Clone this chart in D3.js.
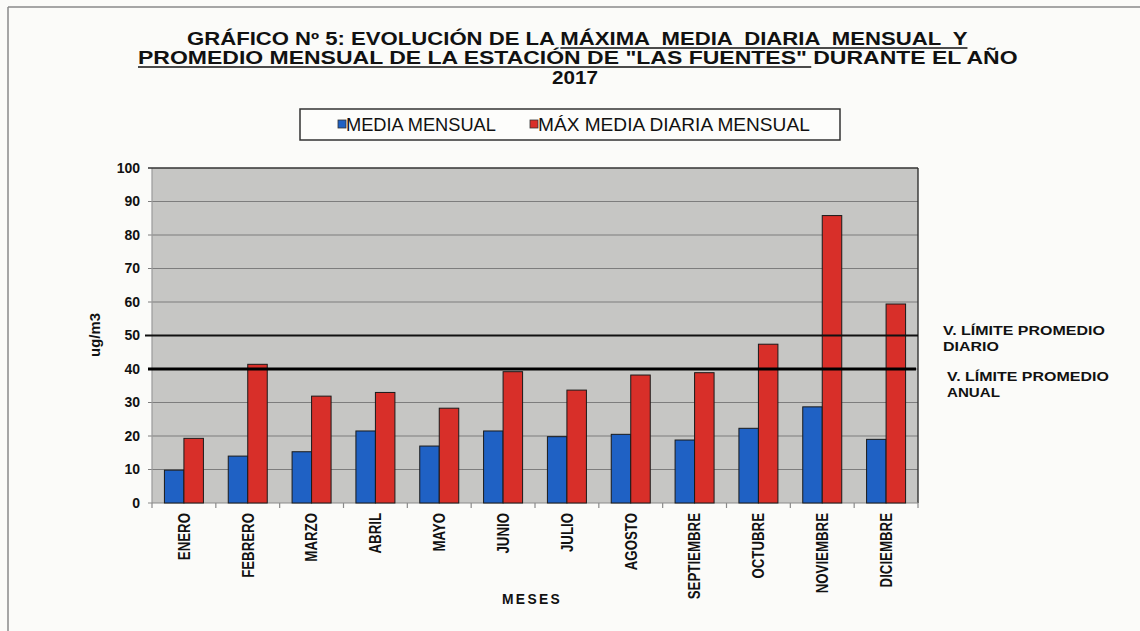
<!DOCTYPE html>
<html><head><meta charset="utf-8">
<script src="https://cdn.jsdelivr.net/npm/d3@7/dist/d3.min.js"></script>
<style>
html,body{margin:0;padding:0;background:#fbfbf9;}
text{font-family:"Liberation Sans",Arial,sans-serif;}
</style></head>
<body>
<svg id="c" width="1140" height="631"></svg>
<script>
const months = ["ENERO","FEBRERO","MARZO","ABRIL","MAYO","JUNIO","JULIO","AGOSTO","SEPTIEMBRE","OCTUBRE","NOVIEMBRE","DICIEMBRE"];
const seriesNames = ["MEDIA MENSUAL","MÁX MEDIA DIARIA MENSUAL"];
const mediaMensual = [9.8,14.0,15.3,21.5,17.0,21.5,19.8,20.5,18.8,22.3,28.7,19.0];
const maxMediaDiaria = [19.3,41.4,31.9,33.0,28.3,39.2,33.7,38.2,38.9,47.4,85.8,59.4];
const yTicks = [0,10,20,30,40,50,60,70,80,90,100];
const limitDiario = 50;
const limitAnual = 40;
const limitLabels = [["V. LÍMITE PROMEDIO","DIARIO"],["V. LÍMITE PROMEDIO","ANUAL"]];
const titleLines = ["GRÁFICO Nº 5: EVOLUCIÓN DE LA MÁXIMA  MEDIA  DIARIA  MENSUAL  Y",
  "PROMEDIO MENSUAL DE LA ESTACIÓN DE \"LAS FUENTES\" DURANTE EL AÑO","2017"];

const colors = ["#1f61c4","#d82f29"];
const svg = d3.select("#c");
const L=152, R=918, T=168, B=503;

function fitText(parent, str, x, y, width, attrs, anchor){
  const g = parent.append("g").attr("transform",`translate(${x},${y})`);
  const t = g.append("text").text(str).attr("text-anchor",anchor||"start").style("white-space","pre");
  for (const k in attrs) t.attr(k, attrs[k]);
  const w = t.node().getComputedTextLength();
  const k = width / w;
  t.attr("transform",`scale(${k},1)`);
  return {g,t,k};
}

// frame
svg.append("line").attr("x1",8).attr("x2",1140).attr("y1",7).attr("y2",7).attr("stroke","#8a8a8a").attr("stroke-width",1.5);
svg.append("line").attr("x1",8).attr("x2",8).attr("y1",7).attr("y2",631).attr("stroke","#8a8a8a").attr("stroke-width",1.5);

// title
const tf = {"font-weight":"bold","font-size":"18px","fill":"#111"};
const t1 = fitText(svg, titleLines[0], 187, 45, 781, tf);
const t2 = fitText(svg, titleLines[1], 138, 64, 880, tf);
fitText(svg, titleLines[2], 575, 84, 46, tf, "middle");
{
  const s = titleLines[0], i = s.indexOf("MÁXIMA");
  const n = t1.t.node();
  const x0 = n.getSubStringLength(0,i)*t1.k, x1 = n.getComputedTextLength()*t1.k;
  t1.g.append("line").attr("x1",x0).attr("x2",x1).attr("y1",3).attr("y2",3).attr("stroke","#111").attr("stroke-width",1.6);
}
{
  const s = titleLines[1], i = s.indexOf("DURANTE");
  const n = t2.t.node();
  const x1 = n.getSubStringLength(0,i)*t2.k;
  t2.g.append("line").attr("x1",0).attr("x2",x1-2).attr("y1",3).attr("y2",3).attr("stroke","#111").attr("stroke-width",1.6);
}

// legend
svg.append("rect").attr("x",300).attr("y",109).attr("width",540).attr("height",31).attr("fill","#fdfdfb").attr("stroke","#333").attr("stroke-width",1.5);
const legX = [[338,346,150],[530,538,272]];
seriesNames.forEach((s,i)=>{
  svg.append("rect").attr("x",legX[i][0]).attr("y",120).attr("width",8).attr("height",8).attr("fill",colors[i]).attr("stroke","#333").attr("stroke-width",0.8);
  fitText(svg, s, legX[i][1], 130.5, legX[i][2], {"font-size":"17.5px","fill":"#111"});
});

// scales
const y = d3.scaleLinear().domain([0,100]).range([B,T]);
const x0 = d3.scaleBand().domain(months).range([L,R]).padding(0);
const grpW = 39;
const x1 = d3.scaleBand().domain([0,1]).range([(x0.bandwidth()-grpW)/2,(x0.bandwidth()+grpW)/2]).padding(0);

// plot area
svg.append("rect").attr("x",L).attr("y",T).attr("width",R-L).attr("height",B-T).attr("fill","#c6c6c4");
// grid
svg.append("g").selectAll("line").data(yTicks.filter(d=>d>0 && d<100 && d!==limitDiario)).join("line")
  .attr("x1",L-4).attr("x2",R).attr("y1",d=>y(d)).attr("y2",d=>y(d)).attr("stroke","#7d7d7d").attr("stroke-width",1);
// borders
svg.append("line").attr("x1",L).attr("x2",L).attr("y1",T).attr("y2",B).attr("stroke","#9a9a9a").attr("stroke-width",1.2);
svg.append("line").attr("x1",L-4).attr("x2",R).attr("y1",T).attr("y2",T).attr("stroke","#333").attr("stroke-width",1.6);
svg.append("line").attr("x1",R).attr("x2",R).attr("y1",T).attr("y2",B).attr("stroke","#333").attr("stroke-width",1.4);
svg.append("line").attr("x1",L-4).attr("x2",R).attr("y1",B).attr("y2",B).attr("stroke","#8a8a8a").attr("stroke-width",1.2);

// y axis labels
const yAxis = d3.axisLeft(y).tickValues(yTicks).tickSize(0).tickPadding(12);
const ya = svg.append("g").attr("transform",`translate(${L},0)`).call(yAxis);
ya.select(".domain").remove();
ya.selectAll("text").attr("font-size","14px").attr("font-weight","bold").attr("fill","#111").attr("font-family","Liberation Sans, Arial, sans-serif");

// x ticks
const xBounds = months.map((m,i)=>x0(m)).concat([R]);
svg.append("g").selectAll("line").data(xBounds).join("line")
  .attr("x1",d=>d).attr("x2",d=>d).attr("y1",B).attr("y2",B+5).attr("stroke","#8a8a8a").attr("stroke-width",1.2);

// bars
const data = months.map((m,i)=>({m, v:[mediaMensual[i], maxMediaDiaria[i]]}));
const gb = svg.append("g").selectAll("g").data(data).join("g").attr("transform",d=>`translate(${x0(d.m)},0)`);
gb.selectAll("rect").data(d=>d.v.map((v,i)=>({v,i}))).join("rect")
  .attr("x",d=>x1(d.i)).attr("width",x1.bandwidth())
  .attr("y",d=>y(d.v)).attr("height",d=>B-y(d.v))
  .attr("fill",d=>colors[d.i]).attr("stroke","#1a1a1a").attr("stroke-width",1);

// limit lines
svg.append("line").attr("x1",L-7).attr("x2",R).attr("y1",y(limitDiario)).attr("y2",y(limitDiario)).attr("stroke","#111").attr("stroke-width",2);
svg.append("line").attr("x1",L-4).attr("x2",R-2).attr("y1",y(limitAnual)).attr("y2",y(limitAnual)).attr("stroke","#000").attr("stroke-width",3);

// limit labels
const lf = {"font-weight":"bold","font-size":"13.5px","fill":"#111"};
fitText(svg, limitLabels[0][0], 943, 335, 162, lf);
fitText(svg, limitLabels[0][1], 943, 350.5, 56, lf);
fitText(svg, limitLabels[1][0], 947, 381, 162, lf);
fitText(svg, limitLabels[1][1], 947, 396.5, 53, lf);

// x labels (rotated)
months.forEach(m=>{
  const cx = x0(m)+x0.bandwidth()/2;
  const g = svg.append("g").attr("transform",`translate(${cx},513) rotate(-90)`);
  const t = g.append("text").text(m).attr("text-anchor","end").attr("dy","0.36em")
    .attr("font-size","16px").attr("font-weight","bold").attr("fill","#111");
  t.attr("transform","scale(0.83,1)");
});

// axis titles
fitText(svg, "MESES", 532, 604, 60, {"font-weight":"bold","font-size":"15px","fill":"#111","letter-spacing":"2.5px"}, "middle");
{
  const g = svg.append("g").attr("transform",`translate(95,335) rotate(-90)`);
  const t = g.append("text").text("ug/m3").attr("text-anchor","middle").attr("dy","0.36em")
    .attr("font-size","15px").attr("font-weight","bold").attr("fill","#111");
  const w = t.node().getComputedTextLength();
  t.attr("transform",`scale(${44/w},1)`);
}
</script>
</body></html>
